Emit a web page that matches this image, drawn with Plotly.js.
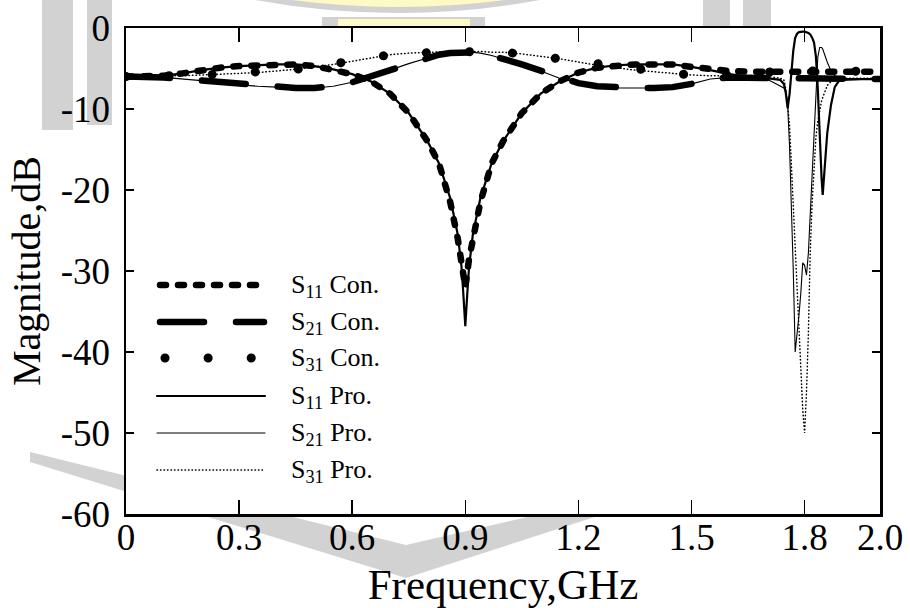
<!DOCTYPE html>
<html><head><meta charset="utf-8">
<script src="https://cdn.plot.ly/plotly-3.0.1.min.js"></script>
<style>
html,body{margin:0;padding:0;background:#fff;}
#chart{width:910px;height:608px;}
.scatterlayer .js-line{stroke-linecap:round;}
.shapelayer path{stroke-linecap:round;}
</style></head><body><div id="chart"></div>
<script>
// ---- data ----
const freqCon = [0,0.05,0.1,0.15,0.2,0.25,0.3,0.35,0.4,0.45,0.5,0.55,0.6,0.65,0.7,0.75,0.8,0.83,0.86,0.88,0.89,0.9,0.91,0.92,0.94,0.97,1.0,1.05,1.1,1.15,1.2,1.25,1.3,1.35,1.4,1.45,1.5,1.55,1.6,1.65,1.7,1.75,1.8,1.85,1.9,1.95,2.0];
const s11Con = [-6.0,-6.0,-5.9,-5.6,-5.2,-4.9,-4.7,-4.6,-4.5,-4.5,-4.7,-5.1,-5.7,-6.6,-8.1,-10.5,-14.0,-16.7,-21.5,-26.0,-28.5,-32.0,-28.5,-26.0,-21.5,-16.7,-14.0,-10.5,-8.1,-6.6,-5.5,-4.9,-4.6,-4.5,-4.5,-4.5,-4.8,-5.1,-5.3,-5.4,-5.4,-5.5,-5.5,-5.4,-5.5,-5.4,-5.4];
const s21Con = [-6.0,-6.0,-6.1,-6.3,-6.5,-6.8,-7.0,-7.2,-7.3,-7.4,-7.4,-7.2,-6.7,-6.0,-5.2,-4.4,-3.7,-3.3,-3.1,-3.0,-2.95,-2.9,-2.95,-3.0,-3.1,-3.4,-3.8,-4.5,-5.3,-6.2,-6.8,-7.2,-7.4,-7.4,-7.4,-7.3,-6.9,-6.3,-6.1,-6.2,-6.2,-6.2,-6.2,-6.2,-6.2,-6.3,-6.3];
const s31Con = [-6.0,-6.0,-5.9,-5.9,-5.8,-5.7,-5.6,-5.5,-5.3,-5.1,-4.8,-4.5,-4.1,-3.7,-3.3,-3.1,-3.0,-2.9,-2.9,-2.9,-2.9,-2.9,-2.9,-2.9,-2.9,-3.0,-3.0,-3.2,-3.5,-3.8,-4.2,-4.6,-4.9,-5.2,-5.4,-5.6,-5.8,-5.9,-5.8,-5.6,-5.4,-5.3,-5.3,-5.4,-5.4,-5.3,-5.3];

const freqPro = [0,0.05,0.1,0.15,0.2,0.25,0.3,0.35,0.4,0.45,0.5,0.55,0.6,0.65,0.7,0.75,0.8,0.83,0.86,0.88,0.89,0.895,0.9,0.905,0.91,0.92,0.94,0.97,1.0,1.05,1.1,1.15,1.2,1.25,1.3,1.35,1.4,1.45,1.5,1.55,1.6,1.65,1.7,1.72,1.735,1.745,1.75,1.755,1.76,1.765,1.77,1.775,1.78,1.785,1.79,1.795,1.8,1.805,1.81,1.815,1.82,1.825,1.83,1.835,1.84,1.845,1.848,1.855,1.86,1.87,1.88,1.89,1.9,1.95,2.0];
const s11Pro = [-6.0,-6.0,-5.9,-5.6,-5.2,-4.9,-4.7,-4.6,-4.5,-4.5,-4.7,-5.1,-5.7,-6.6,-8.1,-10.5,-14.0,-16.7,-21.0,-25.5,-29.5,
  -33.0,-36.8,-33.0,-29.5,
  -25.5,-21.0,-16.7,-14.0,-10.5,-8.1,-6.6,-5.5,-4.9,-4.6,-4.5,-4.5,-4.5,-4.8,-5.2,-5.7,
  -6.0,-6.2,
  -6.3,-6.4,-6.9,-8.0,-9.9,-8.2,-5.5,-2.8,-1.2,-0.7,-0.5,-0.45,-0.45,-0.45,-0.5,-0.6,-0.8,-1.2,-1.8,-3.5,-7.5,-14.0,-18.5,-20.6,-15.5,-13.0,-9.5,-7.3,-6.6,-6.4,-6.3,-6.3];
const s21Pro = [-6.0,-6.0,-6.1,-6.3,-6.5,-6.8,-7.0,-7.2,-7.3,-7.4,-7.4,-7.2,-6.7,-6.0,-5.2,-4.4,-3.7,-3.3,-3.1,-3.0,-2.95,
  -2.9,-2.9,-2.9,-2.95,
  -3.0,-3.1,-3.4,-3.8,-4.5,-5.3,-6.2,-6.8,-7.2,-7.4,-7.4,-7.4,-7.3,-6.9,-6.3,-6.1,
  -6.1,-6.3,
  -6.8,-7.2,-7.4,-7.8,-9.5,-14.5,-22.0,-30.0,-40.0,-38.0,-35.5,-32.7,-29.0,-29.3,-30.5,-27.8,-22.9,-18.0,-13.2,-8.3,-3.6,-2.4,-2.4,-2.6,-3.6,-4.2,-5.3,-5.9,-6.1,-6.2,-6.3,-6.3];
const s31Pro = [-6.0,-6.0,-5.9,-5.9,-5.8,-5.7,-5.6,-5.5,-5.3,-5.1,-4.8,-4.5,-4.1,-3.7,-3.3,-3.1,-3.0,-2.9,-2.9,-2.9,-2.9,
  -2.9,-2.9,-2.9,-2.9,
  -2.9,-2.9,-3.0,-3.0,-3.2,-3.5,-3.8,-4.2,-4.6,-4.9,-5.2,-5.4,-5.6,-5.8,-5.9,-5.9,
  -6.0,-6.0,
  -6.1,-6.2,-6.4,-7.5,-9.5,-12.0,-17.0,-22.0,-27.0,-32.0,-37.0,-42.0,-47.0,-50.0,-45.0,-37.7,-27.5,-21.5,-16.8,-13.5,-11.5,-10.0,-9.0,-8.6,-7.6,-7.1,-6.6,-6.3,-6.2,-6.2,-6.2,-6.2];

const seriesNames = ['S<sub>11</sub> Con.','S<sub>21</sub> Con.','S<sub>31</sub> Con.','S<sub>11</sub> Pro.','S<sub>21</sub> Pro.','S<sub>31</sub> Pro.'];
const xTickVals = [0,0.3,0.6,0.9,1.2,1.5,1.8,2.0];
const xTickText = ['0','0.3','0.6','0.9','1.2','1.5','1.8','2.0'];
const yTickVals = [-60,-50,-40,-30,-20,-10,0];
const yTickText = ['-60','-50','-40','-30','-20','-10','0'];

// ---- styles ----
const FONT = '"Liberation Serif", "Times New Roman", serif';
const styles = [
  {width:6.5, dash:'6px,12px'},
  {width:6.5, dash:'44px,32px'},
  {width:9,   dash:'0.1px,43px'},
  {width:2.2, dash:'solid'},
  {width:1.1, dash:'solid'},
  {width:1.5, dash:'0.5px,3px'}
];

const traces = [
  {x:freqPro, y:s11Pro, name:seriesNames[3], mode:'lines', line:Object.assign({color:'#000'}, styles[3])},
  {x:freqPro, y:s21Pro, name:seriesNames[4], mode:'lines', line:Object.assign({color:'#000'}, styles[4])},
  {x:freqPro, y:s31Pro, name:seriesNames[5], mode:'lines', line:Object.assign({color:'#000'}, styles[5])},
  {x:freqCon, y:s11Con, name:seriesNames[0], mode:'lines', line:Object.assign({color:'#000'}, styles[0])},
  {x:freqCon, y:s21Con, name:seriesNames[1], mode:'lines', line:Object.assign({color:'#000'}, styles[1])},
  {x:freqCon, y:s31Con, name:seriesNames[2], mode:'lines', line:Object.assign({color:'#000'}, styles[2])}
];

// ---- geometry helpers for decoration (pixel -> paper) ----
const L = 126, T = 28, W = 754, H = 486;
const px = x => ((x - L) / W).toFixed(4);
const py = y => ((T + H - y) / H).toFixed(4);
const GRAY = '#d2d2d2', YEL = '#fdfac6';
function poly(pts, color){
  return {type:'path', xref:'paper', yref:'paper', layer:'below',
    path:'M' + pts.map(p => px(p[0]) + ',' + py(p[1])).join('L') + 'Z',
    fillcolor:color, line:{width:0}};
}
function bowl(x0, x1, cx, cy, color){
  return {type:'path', xref:'paper', yref:'paper', layer:'below',
    path:'M'+px(x0)+','+py(0)+'Q'+px(cx)+','+py(cy)+' '+px(x1)+','+py(0)+'Z',
    fillcolor:color, line:{width:0}};
}
const shapes = [
  // faint watermark in the margins
  poly([[42,0],[73,0],[73,130],[42,130]], GRAY),
  poly([[87,0],[112,0],[112,125],[87,125]], GRAY),
  bowl(255, 540, 398, 26, GRAY),
  bowl(292, 505, 398, 14, YEL),
  poly([[322,17],[485,17],[485,28],[322,28]], GRAY),
  poly([[338,19],[470,19],[470,28],[338,28]], YEL),
  poly([[703,0],[730,0],[730,28],[703,28]], GRAY),
  poly([[743,0],[771,0],[771,28],[743,28]], GRAY),
  poly([[30,452],[406,545],[406,578],[30,462]], GRAY),
  poly([[406,545],[540,514],[604,514],[406,578]], GRAY),
  // white plot area
  {type:'rect', xref:'paper', yref:'paper', layer:'below', x0:0, x1:1, y0:0, y1:1, fillcolor:'#fff', line:{width:0}}
];

// legend drawn inside the plot area
const legRowsY = [285, 322, 358, 396, 433, 470];
const legX0 = [160, 160, 165, 157, 157, 157];
const legX1 = [261, 264, 258, 265, 265, 265];
const annotations = [];
for (let i = 0; i < 6; i++) {
  shapes.push({type:'line', xref:'paper', yref:'paper', layer:'above',
    x0:+px(legX0[i]), x1:+px(legX1[i]), y0:+py(legRowsY[i]), y1:+py(legRowsY[i]),
    line:{color:'#000', width:styles[i].width, dash:styles[i].dash}});
  annotations.push({xref:'paper', yref:'paper', x:+px(289), y:+py(legRowsY[i]+1),
    xanchor:'left', yanchor:'middle', showarrow:false, text:seriesNames[i],
    font:{family:FONT, size:26, color:'#000'}});
}

const axisCommon = {showgrid:false, zeroline:false, showline:true, linecolor:'#000', linewidth:2.5,
  mirror:'ticks', ticks:'inside', tickcolor:'#000', tickwidth:1.5,
  tickfont:{family:FONT, size:37, color:'#000'}, fixedrange:true};

const layout = {
  width:910, height:608,
  margin:{l:L, r:910-L-W, t:T, b:608-T-H, pad:0},
  paper_bgcolor:'#fff', plot_bgcolor:'rgba(0,0,0,0)',
  showlegend:false,
  font:{family:FONT, color:'#000'},
  xaxis:Object.assign({}, axisCommon, {range:[0,2.0], tickmode:'array', tickvals:xTickVals, ticktext:xTickText,
    ticklen:14, ticklabelstandoff:-11,
    title:{text:'Frequency,GHz', font:{family:FONT, size:43, color:'#000'}, standoff:13}}),
  yaxis:Object.assign({}, axisCommon, {range:[-60,0], tickmode:'array', tickvals:yTickVals, ticktext:yTickText,
    ticklen:8, ticklabelstandoff:6,
    title:{text:'Magnitude,dB', font:{family:FONT, size:40, color:'#000'}, standoff:8}}),
  shapes:shapes,
  annotations:annotations
};

Plotly.newPlot('chart', traces, layout, {displayModeBar:false, staticPlot:true});
</script></body></html>
